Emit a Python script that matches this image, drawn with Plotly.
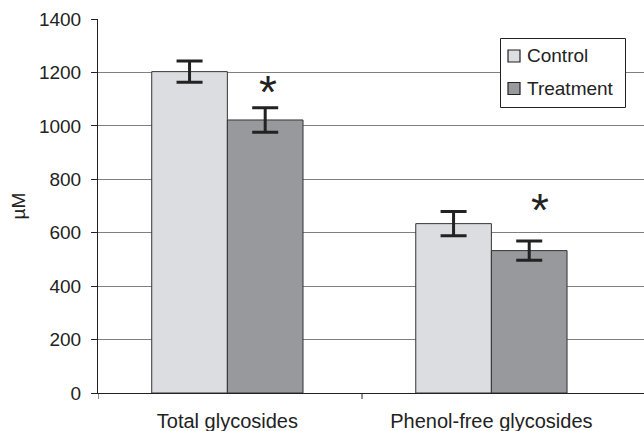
import plotly.graph_objects as go

# Glycoside concentrations (µM), mean ± error
categories = ["Total glycosides", "Phenol-free glycosides"]
control_vals = [1203, 634]
control_err = [40, 45]
treatment_vals = [1022, 533]
treatment_err = [46, 36]
series_names = ["Control", "Treatment"]
series_colors = ["#dcdde0", "#98999d"]
y_ticks = [0, 200, 400, 600, 800, 1000, 1200, 1400]
star_y = [1128, 685]   # vertical position of significance markers

FONT = "Liberation Sans, Arial, sans-serif"
INK = "#222222"
edge = dict(color="#333333", width=1)
errbar = dict(type="data", visible=True, color=INK, thickness=3, width=13)

fig = go.Figure()
for name, vals, err, col in [
    (series_names[0], control_vals, control_err, series_colors[0]),
    (series_names[1], treatment_vals, treatment_err, series_colors[1]),
]:
    fig.add_trace(go.Bar(
        x=categories, y=vals, name=name,
        marker=dict(color=col, line=edge),
        error_y=dict(array=err, **errbar),
    ))

# significance asterisks above the treatment bars
star_dx = [0.154, 0.184]
for i, yv in enumerate(star_y):
    fig.add_annotation(
        x=i + star_dx[i], y=yv, xref="x", yref="y", text="*", showarrow=False,
        font=dict(family=FONT, size=46, color=INK),
        xanchor="center", yanchor="middle",
    )

# tick marks at the category boundaries
for xb in [-0.49, 0.51]:
    fig.add_shape(type="line", xref="x", yref="paper", x0=xb, x1=xb, y0=0, y1=-0.016,
                  line=dict(color=INK, width=1))

# legend box drawn in paper coordinates
px_w, px_h = 644 - 98, 431 - 19 - 38


def px_to_paper(xp, yp):
    return (xp - 98) / px_w, (431 - 38 - yp) / px_h


bx0, by0 = px_to_paper(500.5, 38.5)
bx1, by1 = px_to_paper(625.5, 107.5)
fig.add_shape(type="rect", xref="paper", yref="paper", x0=bx0, y0=by1, x1=bx1, y1=by0,
              line=dict(color=INK, width=1), fillcolor="white", layer="above")
for k, (name, col) in enumerate(zip(series_names, series_colors)):
    cy = 56 + 32.5 * k
    sx0, sy0 = px_to_paper(508, cy - 6)
    sx1, sy1 = px_to_paper(520, cy + 6)
    fig.add_shape(type="rect", xref="paper", yref="paper", x0=sx0, y0=sy1, x1=sx1, y1=sy0,
                  line=dict(color=INK, width=1.2), fillcolor=col, layer="above")
    tx, ty = px_to_paper(525, cy)
    fig.add_annotation(x=tx, y=ty, xref="paper", yref="paper", text=name, showarrow=False,
                       xanchor="left", yanchor="middle",
                       font=dict(family=FONT, size=19, color=INK))

fig.update_layout(
    width=644, height=431,
    margin=dict(l=98, r=0, t=19, b=38),
    paper_bgcolor="white", plot_bgcolor="white",
    barmode="group", bargap=0.427, bargroupgap=0,
    font=dict(family=FONT, size=19, color=INK),
    showlegend=False,
    xaxis=dict(
        range=[-0.49, 1.578], showgrid=False, automargin=False,
        showline=True, linecolor=INK, linewidth=1,
        ticks="", ticklabelstandoff=10,
        tickfont=dict(family=FONT, size=20, color=INK),
    ),
    yaxis=dict(
        range=[0, 1400], tickvals=y_ticks, automargin=False,
        showgrid=True, gridcolor="#7f7f7f", gridwidth=1,
        showline=True, linecolor=INK, linewidth=1,
        ticks="outside", ticklen=6, tickcolor=INK,
        ticklabelstandoff=6,
        tickfont=dict(family=FONT, size=19, color=INK),
        title=dict(text="µM", font=dict(family=FONT, size=19, color=INK), standoff=8),
        zeroline=False,
    ),
)

fig.write_html("out.html")
